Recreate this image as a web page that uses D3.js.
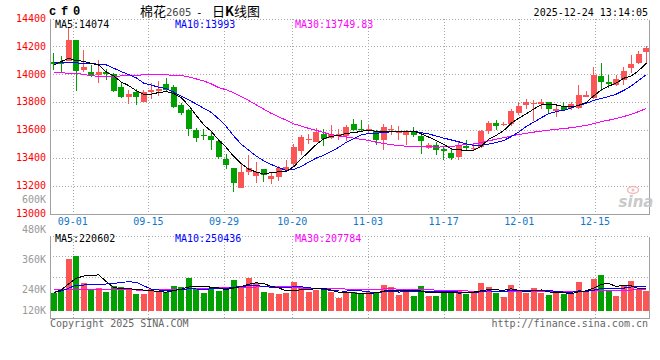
<!DOCTYPE html>
<html lang="zh">
<head>
<meta charset="utf-8">
<title>棉花2605 - 日K线图</title>
<script src="https://cdn.jsdelivr.net/npm/d3@7"></script>
<style>
    body { margin: 0; background: #fff; }
    svg { display: block; font-family: "DejaVu Sans Mono", monospace; font-size: 10px; }
</style>
</head>
<body>
<svg id="chart" width="660" height="360"></svg>
<script>

    // trading days shown, 08-27 .. 12-24
    var dates = ["08-27", "08-28", "08-29",
        "09-01", "09-02", "09-03", "09-04", "09-05", "09-08", "09-09", "09-10", "09-11", "09-12",
        "09-15", "09-16", "09-17", "09-18", "09-19", "09-22", "09-23", "09-24", "09-25", "09-26", "09-29", "09-30",
        "10-09", "10-10", "10-13", "10-14", "10-15", "10-16", "10-17", "10-20", "10-21", "10-22", "10-23", "10-24",
        "10-27", "10-28", "10-29", "10-30", "10-31",
        "11-03", "11-04", "11-05", "11-06", "11-07", "11-10", "11-11", "11-12", "11-13", "11-14",
        "11-17", "11-18", "11-19", "11-20", "11-21", "11-24", "11-25", "11-26", "11-27", "11-28",
        "12-01", "12-02", "12-03", "12-04", "12-05", "12-08", "12-09", "12-10", "12-11", "12-12",
        "12-15", "12-16", "12-17", "12-18", "12-19", "12-22", "12-23", "12-24"];

    var opens = [14086, 14091, 14098, 14246, 14033, 14017, 13997, 14019, 14000, 13909,
        13833, 13873, 13797, 13869, 13876, 13931, 13907, 13780, 13745, 13601,
        13566, 13558, 13523, 13394, 13329, 13181, 13296, 13270, 13320, 13246,
        13262, 13313, 13358, 13451, 13525, 13513, 13570, 13542, 13558, 13554,
        13644, 13608, 13594, 13589, 13530, 13596, 13577, 13566, 13594, 13554,
        13470, 13491, 13463, 13437, 13403, 13482, 13463, 13477, 13589, 13649,
        13632, 13644, 13725, 13780, 13788, 13788, 13799, 13733, 13764, 13754,
        13756, 13840, 13828, 13988, 13947, 13926, 13959, 14045, 14084, 14162];
    var highs = [14155, 14131, 14341, 14246, 14174, 14067, 14103, 14036, 14007, 13935,
        13888, 13892, 13888, 13940, 13952, 13976, 13924, 13792, 13749, 13613,
        13606, 13585, 13530, 13430, 13329, 13355, 13422, 13370, 13320, 13298,
        13341, 13387, 13499, 13561, 13570, 13613, 13606, 13637, 13606, 13632,
        13680, 13673, 13637, 13601, 13644, 13637, 13625, 13601, 13620, 13566,
        13506, 13513, 13482, 13463, 13511, 13530, 13501, 13601, 13661, 13668,
        13654, 13749, 13797, 13821, 13816, 13821, 13804, 13773, 13802, 13804,
        13924, 13883, 14055, 14079, 13995, 13995, 14055, 14138, 14169, 14203];
    var lows = [14031, 14007, 14095, 13881, 14019, 13983, 13940, 13959, 13869, 13826,
        13787, 13780, 13797, 13823, 13847, 13876, 13761, 13709, 13554, 13511,
        13530, 13453, 13391, 13320, 13153, 13181, 13279, 13217, 13224, 13212,
        13231, 13308, 13344, 13422, 13499, 13513, 13482, 13537, 13530, 13518,
        13589, 13589, 13577, 13494, 13453, 13566, 13530, 13494, 13546, 13429,
        13463, 13420, 13386, 13382, 13382, 13458, 13453, 13470, 13573, 13597,
        13625, 13630, 13706, 13749, 13661, 13752, 13716, 13692, 13733, 13745,
        13749, 13833, 13821, 13883, 13900, 13916, 13924, 14012, 14072, 14084];
    var closes = [14072, 14072, 14246, 14026, 14050, 13990, 14017, 14000, 13881, 13833,
        13859, 13833, 13869, 13888, 13895, 13888, 13766, 13718, 13608, 13539,
        13554, 13530, 13403, 13346, 13217, 13298, 13327, 13298, 13274, 13272,
        13327, 13336, 13475, 13546, 13537, 13582, 13537, 13570, 13570, 13623,
        13596, 13596, 13604, 13530, 13623, 13608, 13589, 13582, 13561, 13518,
        13494, 13458, 13451, 13398, 13487, 13470, 13472, 13589, 13649, 13625,
        13644, 13733, 13773, 13804, 13795, 13797, 13749, 13752, 13740, 13788,
        13852, 13850, 13995, 13947, 13928, 13964, 14021, 14074, 14146, 14189];
    var volumes = [227000, 244000, 364000, 377000, 267000, 244000, 249000, 231000, 256000, 251000,
        244000, 224000, 224000, 244000, 233000, 231000, 256000, 251000, 289000, 244000,
        229000, 244000, 237000, 251000, 280000, 256000, 289000, 268000, 233000, 228000,
        224000, 229000, 272000, 252000, 233000, 240000, 240000, 233000, 209000, 227000,
        233000, 227000, 231000, 227000, 260000, 252000, 220000, 236000, 216000, 256000,
        216000, 217000, 240000, 229000, 236000, 223000, 229000, 269000, 253000, 229000,
        213000, 260000, 236000, 229000, 249000, 227000, 220000, 229000, 223000, 223000,
        272000, 236000, 284000, 300000, 236000, 216000, 256000, 276000, 240000, 236000];

    var priceMa5Lead = [14067, 14091, 14114, 14098];
    var priceMa10Lead = [14086, 14086, 14083, 14081, 14079, 14076, 14072, 14067, 14043];
    var priceMa30Lead = [14012, 14010, 14007, 14005, 14000, 13988, 13986, 13983, 13983, 13988,
        13990, 13993, 13995, 13995, 13995, 13995, 13993, 13990, 13981, 13966,
        13952, 13931, 13904, 13888, 13866, 13840, 13811, 13780, 13749];
    var volMa5Lead = [229000, 240000, 265000, 287000];
    var volMa10Lead = [231000, 236000, 247000, 260000, 260000, 263000, 263000, 264000, 265000];
    var volMa30Lead = [240000, 241000, 243000, 244000, 244000, 244000, 244000, 243000, 243000, 242000,
        241000, 240000, 240000, 240000, 241000, 242000, 243000, 243000, 244000, 245000,
        246000, 247000, 248000, 249000, 249000, 250000, 251000, 252000, 254000];

    var dateTicks = ["09-01", "09-15", "09-29", "10-20", "11-03", "11-17", "12-01", "12-15"];
    var priceTicks = [13000, 13200, 13400, 13600, 13800, 14000, 14200, 14400];
    var volTicks = [120000, 240000, 360000, 480000, 600000];
    var volFloor = 156000;   // bars rise from here, not from zero

    var priceMaLabels = ["MA5:14074", "MA10:13993", "MA30:13749.83"];
    var volMaLabels = ["MA5:220602", "MA10:250436", "MA30:207784"];
    var maColors = ["#000000", "#0000ff", "#ff00ff"];

    var upColor = "#fb5555", downColor = "#00a000";
    var gridColor = "#a8a8a8", borderColor = "#a0a0a0";

    var plotL = 50, plotR = 650;
    var priceTop = 18.5, priceBot = 213.5;
    var volTop = 235.5, volBot = 317.5;

    var svg = d3.select("#chart");

    var x = d3.scaleBand().domain(d3.range(dates.length)).range([plotL, plotR])
        .paddingInner(0.2).paddingOuter(0.1);
    // Sina spaces its date grid a little wider than the candles
    var xGrid = d3.scaleLinear().domain([0, dates.length - 1]).range([plotL, 648]);
    var y = d3.scaleLinear().domain([13000, 14400]).range([priceBot, priceTop]);
    var yVol = d3.scaleLinear().domain([0, 600000]).range([350, 200]);

    var px = v => Math.round(v) + 0.5;
    var cx = i => x(i) + x.bandwidth() / 2;
    var isUp = i => closes[i] >= opens[i];

    function movingAvg(vals, n, lead) {
        return vals.map((v, i) => i < n - 1 ? lead[i] : d3.mean(vals.slice(i - n + 1, i + 1)));
    }

    // ---- grid + borders
    var grid = svg.append("g")
        .attr("stroke", gridColor).attr("stroke-dasharray", "1,2").attr("shape-rendering", "crispEdges");

    grid.selectAll(".hp").data(priceTicks.filter(d => d > 13000)).join("line")
        .attr("x1", plotL).attr("x2", plotR)
        .attr("y1", d => px(y(d))).attr("y2", d => px(y(d)));

    var volRows = d3.range(5).map(k => volTop + k * (volBot - volTop) / 4);
    grid.selectAll(".hv").data(volRows.slice(0, 4)).join("line")
        .attr("x1", plotL).attr("x2", plotR)
        .attr("y1", d => px(d)).attr("y2", d => px(d));

    var tickIdx = dateTicks.map(d => dates.indexOf(d));
    grid.selectAll(".vp").data(tickIdx).join("line")
        .attr("x1", d => px(xGrid(d))).attr("x2", d => px(xGrid(d)))
        .attr("y1", priceTop).attr("y2", priceBot);
    grid.selectAll(".vv").data(tickIdx).join("line")
        .attr("x1", d => px(xGrid(d))).attr("x2", d => px(xGrid(d)))
        .attr("y1", volTop).attr("y2", volBot);

    var border = svg.append("g").attr("stroke", borderColor).attr("shape-rendering", "crispEdges");
    [[priceTop, priceBot], [volTop, volBot]].forEach(function (p) {
        border.append("line").attr("x1", px(plotL)).attr("x2", px(plotL)).attr("y1", px(p[0])).attr("y2", px(p[1]));
        border.append("line").attr("x1", px(plotR - 1)).attr("x2", px(plotR - 1)).attr("y1", px(p[0])).attr("y2", px(p[1]));
        border.append("line").attr("x1", px(plotL)).attr("x2", px(plotR - 1)).attr("y1", px(p[1])).attr("y2", px(p[1]));
    });

    // ---- sina watermark
    var mark = svg.append("g").attr("opacity", 0.9);
    mark.append("ellipse").attr("cx", 633).attr("cy", 190).attr("rx", 5.5).attr("ry", 3.5)
        .attr("fill", "none").attr("stroke", "#f2b4b4").attr("stroke-width", 1.5);
    mark.append("circle").attr("cx", 633).attr("cy", 190).attr("r", 1.5).attr("fill", "#f2b4b4");
    mark.append("text").attr("x", 636).attr("y", 207).attr("text-anchor", "middle")
        .style("font", "italic bold 15px 'DejaVu Sans'").attr("fill", "#c4c4c4").text("sina");

    // ---- candles
    var candles = svg.append("g").attr("shape-rendering", "crispEdges")
        .selectAll("g").data(d3.range(dates.length)).join("g")
        .attr("fill", i => isUp(i) ? upColor : downColor)
        .attr("stroke", i => isUp(i) ? upColor : downColor);

    candles.append("line")
        .attr("x1", i => px(cx(i) - 0.5)).attr("x2", i => px(cx(i) - 0.5))
        .attr("y1", i => Math.round(y(highs[i]))).attr("y2", i => Math.round(y(lows[i])));

    candles.append("rect")
        .attr("stroke", "none")
        .attr("x", i => Math.round(x(i)))
        .attr("width", Math.round(x.bandwidth()))
        .attr("y", i => Math.round(y(Math.max(opens[i], closes[i]))))
        .attr("height", i => Math.max(1, Math.round(y(Math.min(opens[i], closes[i]))) - Math.round(y(Math.max(opens[i], closes[i])))));

    // ---- volume bars
    svg.append("g").attr("shape-rendering", "crispEdges")
        .selectAll("rect").data(d3.range(dates.length)).join("rect")
        .attr("fill", i => isUp(i) ? upColor : downColor)
        .attr("x", i => Math.round(x(i)))
        .attr("width", Math.round(x.bandwidth()))
        .attr("y", i => Math.round(yVol(volumes[i])))
        .attr("height", i => Math.round(yVol(volFloor)) - Math.round(yVol(volumes[i])));

    // ---- moving averages
    var priceMas = [movingAvg(closes, 5, priceMa5Lead), movingAvg(closes, 10, priceMa10Lead), movingAvg(closes, 30, priceMa30Lead)];
    var volMas = [movingAvg(volumes, 5, volMa5Lead), movingAvg(volumes, 10, volMa10Lead), movingAvg(volumes, 30, volMa30Lead)];

    var priceLine = d3.line().x((d, i) => cx(i)).y(d => y(d));
    var volLine = d3.line().x((d, i) => cx(i)).y(d => yVol(d));

    svg.append("g").attr("fill", "none").attr("shape-rendering", "crispEdges")
        .selectAll("path").data([2, 1, 0]).join("path")
        .attr("stroke", k => maColors[k])
        .attr("d", k => priceLine(priceMas[k]));
    svg.append("g").attr("fill", "none").attr("shape-rendering", "crispEdges")
        .selectAll("path").data([2, 1, 0]).join("path")
        .attr("stroke", k => maColors[k])
        .attr("d", k => volLine(volMas[k]));

    // ---- text
    var maX = [55, 175, 295];
    svg.append("g").selectAll("text").data(priceMaLabels).join("text")
        .attr("x", (d, k) => maX[k]).attr("y", 27.5)
        .attr("fill", (d, k) => maColors[k]).text(d => d);
    svg.append("g").selectAll("text").data(volMaLabels).join("text")
        .attr("x", (d, k) => maX[k]).attr("y", 242)
        .attr("fill", (d, k) => maColors[k]).text(d => d);

    svg.append("g").attr("text-anchor", "end").attr("fill", "#ff0000")
        .selectAll("text").data(priceTicks).join("text")
        .attr("x", 46).attr("y", d => Math.max(y(d), 15)).attr("dy", "0.33em")
        .text(d => d);

    svg.append("g").attr("text-anchor", "end").attr("fill", "#999999")
        .selectAll("text").data(volTicks).join("text")
        .attr("x", 46).attr("y", d => Math.min(yVol(d), yVol(volFloor))).attr("dy", "0.33em")
        .text(d => d / 1000 + "K");

    svg.append("g").attr("text-anchor", "middle").attr("fill", "#1078c8")
        .selectAll("text").data(tickIdx).join("text")
        .attr("x", d => xGrid(d)).attr("y", 224.5)
        .text((d, k) => dateTicks[k]);

    svg.append("text").attr("x", 49).attr("y", 15)
        .style("font", "bold 12px 'Liberation Mono'").attr("letter-spacing", "4.8px")
        .text("cf0");

    var title = svg.append("text").attr("y", 15.5).style("font", "13px 'Noto Sans CJK SC'");
    title.append("tspan").attr("x", 140).text("棉花");
    title.append("tspan").attr("x", 166).attr("fill", "#444").style("font", "10.5px 'DejaVu Sans Mono'").text("2605");
    title.append("tspan").attr("x", 196).style("font", "11px 'DejaVu Sans Mono'").text("-");
    title.append("tspan").attr("x", 212).text("日");
    title.append("tspan").style("font-weight", "bold").text("K");
    title.append("tspan").text("线图");

    svg.append("text").attr("x", 648).attr("y", 16).attr("text-anchor", "end")
        .text("2025-12-24 13:14:05");

    svg.append("text").attr("x", 50).attr("y", 327).attr("fill", "#666")
        .text("Copyright 2025 SINA.COM");
    svg.append("text").attr("x", 648).attr("y", 327).attr("text-anchor", "end").attr("fill", "#666")
        .text("http://finance.sina.com.cn");

</script>
</body>
</html>
